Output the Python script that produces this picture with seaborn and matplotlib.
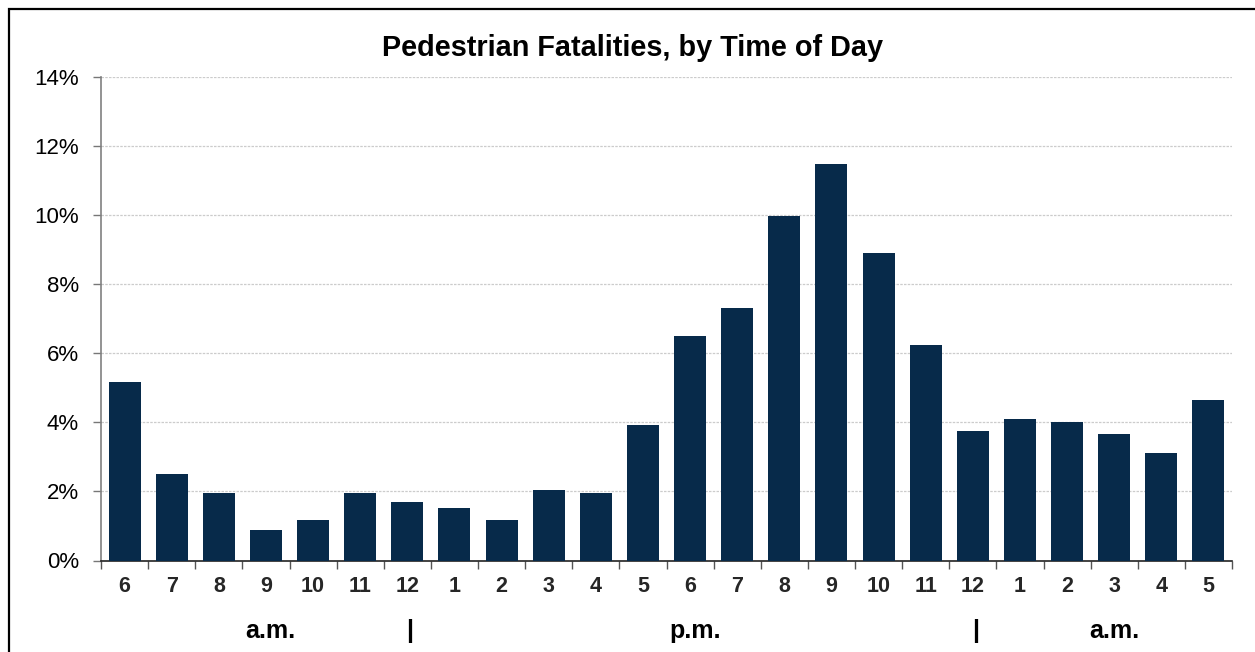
import matplotlib
matplotlib.use("Agg")
import matplotlib.pyplot as plt
from matplotlib.patches import Rectangle
from matplotlib.ticker import FuncFormatter, FixedLocator
import seaborn as sns
import pandas as pd

# Hour of day (starting 6 a.m.) and share of pedestrian fatalities, %
hour_labels = ["6", "7", "8", "9", "10", "11", "12", "1", "2", "3", "4", "5",
               "6", "7", "8", "9", "10", "11", "12", "1", "2", "3", "4", "5"]
periods = ["am"] * 6 + ["pm"] * 12 + ["am"] * 6
fatality_pct = [5.17, 2.50, 1.95, 0.87, 1.17, 1.95, 1.68, 1.52, 1.17, 2.04, 1.95, 3.92,
                6.50, 7.31, 9.97, 11.48, 8.90, 6.24, 3.75, 4.10, 4.01, 3.66, 3.11, 4.65]

# Lower row of x labels: text and the slot it sits under
period_text = ["a.m.", "|", "p.m.", "|", "a.m."]
period_pos = [3.1, 6.05, 12.1, 18.05, 21.0]

title = "Pedestrian Fatalities, by Time of Day"
bar_color = "#072a4a"

slots = [f"{i:02d}-{h}{p}" for i, (h, p) in enumerate(zip(hour_labels, periods))]
df = pd.DataFrame({"slot": slots, "pct": fatality_pct})

sns.set_theme(style="white")
plt.rcParams["font.family"] = ["Liberation Sans", "DejaVu Sans"]

fig = plt.figure(figsize=(12.55, 6.52), dpi=100)
ax = fig.add_axes([101 / 1255, 1 - 560.5 / 652, (1232 - 101) / 1255, (560.5 - 77) / 652])

sns.barplot(data=df, x="slot", y="pct", order=slots, color=bar_color,
            saturation=1, width=0.68, linewidth=0, ax=ax, zorder=3)

ax.set_xlim(-0.5, len(slots) - 0.5)
ax.set_ylim(0, 14)
ax.set_yticks(range(0, 15, 2))
ax.yaxis.set_major_formatter(FuncFormatter(lambda v, _: f"{v:.0f}%"))
ax.yaxis.grid(True, color="#cccccc", linestyle=(0, (2, 1)), linewidth=0.9, zorder=0)
ax.set_axisbelow(True)

ax.set_xticks(range(len(slots)))
ax.set_xticklabels(hour_labels, fontsize=15.5, fontweight="bold")
ax.xaxis.set_minor_locator(FixedLocator([i - 0.5 for i in range(len(slots) + 1)]))
ax.tick_params(axis="x", which="major", length=0, pad=11.5)
ax.tick_params(axis="x", which="minor", length=5.5, width=1, color="#555555", direction="out", bottom=True)
ax.tick_params(axis="y", which="major", length=6, width=1, color="#777777", direction="out",
               left=True, labelsize=16, pad=10)
for lbl in ax.get_yticklabels():
    lbl.set_color("black")

ax.set_xlabel("")
ax.set_ylabel("")
for side in ["top", "right"]:
    ax.spines[side].set_visible(False)
ax.spines["left"].set_color("#808080")
ax.spines["left"].set_linewidth(1.2)
ax.spines["bottom"].set_color("#222222")
ax.spines["bottom"].set_linewidth(1.2)

trans = ax.get_xaxis_transform()
for txt, pos in zip(period_text, period_pos):
    ax.text(pos, -0.145, txt, transform=trans, ha="center", va="center",
            fontsize=18, fontweight="bold", color="black")

fig.text(632 / 1255, 1 - 56 / 652, title, ha="center", va="baseline",
         fontsize=20.8, fontweight="bold", color="black")

# Frame around the chart area
fig.patches.append(Rectangle((8.8 / 1255, -0.2), 1.2, 1.2 - 8.8 / 652, transform=fig.transFigure,
                             fill=False, edgecolor="black", linewidth=1.6, figure=fig))

fig.savefig("out.png", dpi=100, facecolor="white")
